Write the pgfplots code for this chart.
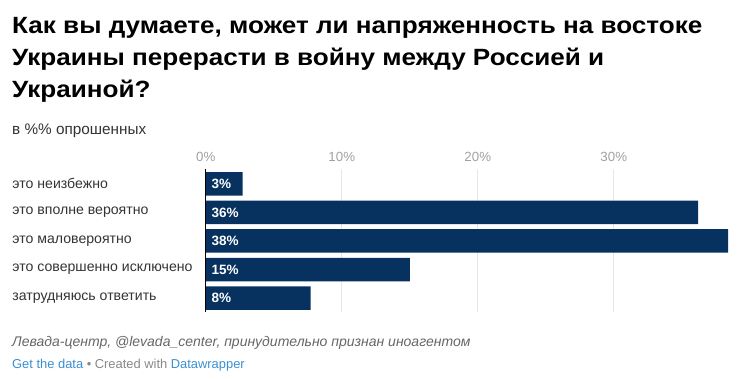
\documentclass[border=0pt]{standalone}
\usepackage{fontspec}
\setmainfont{Liberation Sans}
\newfontfamily\titlefont[FakeStretch=1.11]{Liberation Sans}
\usepackage{pgfplots}
\pgfplotsset{compat=1.18}
\definecolor{barblue}{HTML}{07325F}
\definecolor{txt}{HTML}{333333}
\definecolor{ticktxt}{HTML}{A0A0A0}
\definecolor{gridc}{HTML}{E6E6E6}
\definecolor{srcc}{HTML}{666666}
\definecolor{linkc}{HTML}{3A8FD0}
\definecolor{credc}{HTML}{888888}
\begin{document}
\begin{tikzpicture}[x=1pt,y=1pt]
\path[use as bounding box] (0,0) rectangle (740,-379);
\node[anchor=base west,inner sep=0,font=\titlefont\fontsize{23.5}{23.5}\selectfont\bfseries,text=black] at (12,-34) {Как вы думаете, может ли напряженность на востоке};
\node[anchor=base west,inner sep=0,font=\titlefont\fontsize{23.5}{23.5}\selectfont\bfseries,text=black] at (12,-66) {Украины перерасти в войну между Россией и};
\node[anchor=base west,inner sep=0,font=\titlefont\fontsize{23.5}{23.5}\selectfont\bfseries,text=black] at (12,-98) {Украиной?};
\node[anchor=base west,inner sep=0,font=\fontsize{15.3}{15.3}\selectfont,text=txt] at (12,-135) {в \%\% опрошенных};
\begin{axis}[
  at={(205.8pt,-169.5pt)}, anchor=north west,
  x=13.6pt, y=28.6pt,
  xmin=0, xmax=38.7, ymin=0.5, ymax=5.5,
  y dir=reverse,
  axis line style={draw=none},
  major tick length=0pt,
  xtick={0,10,20,30},
  xticklabel pos=upper,
  xticklabel={\pgfmathprintnumber{\tick}\%},
  xticklabel style={font=\fontsize{13.3}{13.3}\selectfont, text=ticktxt, inner sep=0pt, yshift=7.5pt},
  /pgf/number format/assume math mode=true,
  xmajorgrids, major grid style={gridc, line width=1pt},
  ytick={1,2,3,4,5},
  yticklabels={это неизбежно, это вполне вероятно, это маловероятно, это совершенно исключено, затрудняюсь ответить},
  yticklabel style={font=\fontsize{14.1}{14.1}\selectfont, text=txt, anchor=west, inner sep=0pt, xshift=-193.5pt},
  clip=false,
]
\addplot[xbar, fill=barblue, draw=none, bar width=23.5pt, bar shift=0pt] coordinates {(2.7,1) (36.2,2) (38.4,3) (15.0,4) (7.7,5)};
\draw[black, line width=1.2pt] (axis cs:0,0.5) -- (axis cs:0,5.5);
\addplot[draw=none, mark=none, nodes near coords, point meta=explicit symbolic,
  every node near coord/.style={anchor=west, inner sep=0pt, text=white, font=\fontsize{13.5}{13.5}\selectfont\bfseries}]
  table[meta=lab] {
x y lab
0.42 1 3\%
0.42 2 36\%
0.42 3 38\%
0.42 4 15\%
0.42 5 8\%
};
\end{axis}
\node[anchor=base west,inner sep=0,font=\fontsize{14}{14}\selectfont\itshape,text=srcc] at (12,-347) {Левада-центр, @levada\_center, принудительно признан иноагентом};
\node[anchor=base west,inner sep=0,font=\fontsize{12.9}{12.9}\selectfont] at (12,-369) {\textcolor{linkc}{Get the data} \textcolor{credc}{• Created with} \textcolor{linkc}{Datawrapper}};
\end{tikzpicture}
\end{document}
